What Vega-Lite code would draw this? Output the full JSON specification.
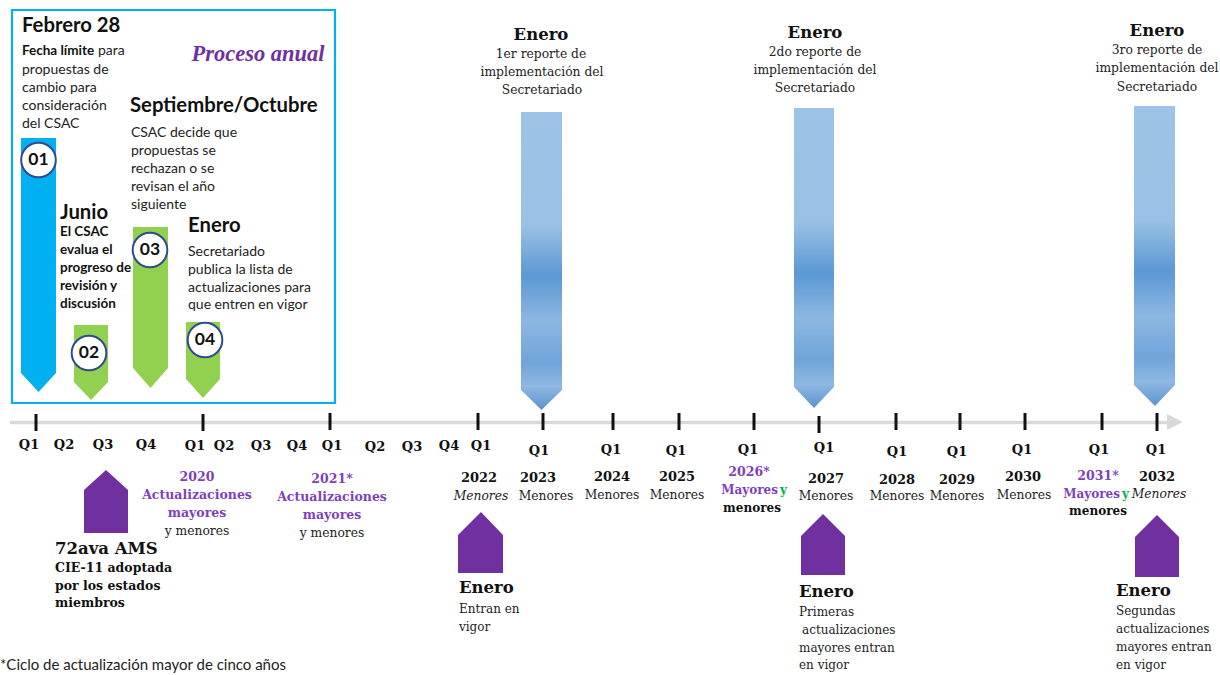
{
  "$schema": "https://vega.github.io/schema/vega-lite/v6.json",
  "autosize": {"type": "fit", "contains": "padding"},
  "width": 1220,
  "height": 675,
  "padding": 0,
  "background": "white",
  "config": {"view": {"stroke": null}},
  "datasets": {
    "box": [{"x": 12, "x2": 335, "y": 10, "y2": 403}],
    "axisline": [{"x": 10, "x2": 1168, "y": 422.5}],
    "shapes": [
      {"id": "a01", "kind": "cyan", "x": 21, "y": 138, "y2": 373},
      {"id": "a01", "kind": "cyan", "x": 38.5, "y": 138, "y2": 392},
      {"id": "a01", "kind": "cyan", "x": 56, "y": 138, "y2": 373},
      {"id": "a02", "kind": "green", "x": 74, "y": 325, "y2": 382},
      {"id": "a02", "kind": "green", "x": 91, "y": 325, "y2": 400},
      {"id": "a02", "kind": "green", "x": 108, "y": 325, "y2": 382},
      {"id": "a03", "kind": "green", "x": 133, "y": 227, "y2": 368},
      {"id": "a03", "kind": "green", "x": 150.5, "y": 227, "y2": 388},
      {"id": "a03", "kind": "green", "x": 168, "y": 227, "y2": 368},
      {"id": "a04", "kind": "green", "x": 186, "y": 322, "y2": 379},
      {"id": "a04", "kind": "green", "x": 203, "y": 322, "y2": 398},
      {"id": "a04", "kind": "green", "x": 220, "y": 322, "y2": 379},
      {"id": "h1", "kind": "purple", "x": 84, "y": 490, "y2": 533},
      {"id": "h1", "kind": "purple", "x": 106, "y": 470, "y2": 533},
      {"id": "h1", "kind": "purple", "x": 128, "y": 490, "y2": 533},
      {"id": "h2", "kind": "purple", "x": 458, "y": 535, "y2": 573},
      {"id": "h2", "kind": "purple", "x": 481, "y": 512, "y2": 573},
      {"id": "h2", "kind": "purple", "x": 503, "y": 535, "y2": 573},
      {"id": "h3", "kind": "purple", "x": 801, "y": 536, "y2": 575},
      {"id": "h3", "kind": "purple", "x": 823, "y": 514, "y2": 575},
      {"id": "h3", "kind": "purple", "x": 845, "y": 536, "y2": 575},
      {"id": "h4", "kind": "purple", "x": 1135, "y": 537, "y2": 577},
      {"id": "h4", "kind": "purple", "x": 1157, "y": 515, "y2": 577},
      {"id": "h4", "kind": "purple", "x": 1179, "y": 537, "y2": 577},
      {"id": "head", "kind": "gray", "x": 1167, "y": 414, "y2": 430},
      {"id": "head", "kind": "gray", "x": 1183, "y": 422, "y2": 422}
    ],
    "report": [
      {"id": "r2023", "x": 521, "y": 112, "y2": 390},
      {"id": "r2023", "x": 541.5, "y": 112, "y2": 410},
      {"id": "r2023", "x": 562, "y": 112, "y2": 390},
      {"id": "r2027", "x": 794, "y": 108, "y2": 387},
      {"id": "r2027", "x": 814, "y": 108, "y2": 408},
      {"id": "r2027", "x": 834, "y": 108, "y2": 387},
      {"id": "r2032", "x": 1134, "y": 106, "y2": 385},
      {"id": "r2032", "x": 1155, "y": 106, "y2": 406},
      {"id": "r2032", "x": 1175, "y": 106, "y2": 385}
    ],
    "ticks": [
      {"x": 36, "y": 414, "y2": 431},
      {"x": 203, "y": 414, "y2": 431},
      {"x": 330, "y": 413, "y2": 430},
      {"x": 478, "y": 413, "y2": 430},
      {"x": 543, "y": 413, "y2": 430},
      {"x": 613, "y": 413, "y2": 430},
      {"x": 679, "y": 413, "y2": 430},
      {"x": 754, "y": 413, "y2": 430},
      {"x": 819, "y": 416, "y2": 433},
      {"x": 896, "y": 413, "y2": 430},
      {"x": 960, "y": 413, "y2": 430},
      {"x": 1025, "y": 413, "y2": 430},
      {"x": 1102, "y": 413, "y2": 430},
      {"x": 1157, "y": 413, "y2": 431}
    ],
    "circles": [
      {"t": "01", "x": 38.5, "y": 160},
      {"t": "02", "x": 89, "y": 353},
      {"t": "03", "x": 150, "y": 250},
      {"t": "04", "x": 205, "y": 340}
    ],
    "texts": [
      {"c": "boxHead", "t": "Febrero 28", "x": 22, "y": 26},
      {"c": "boxHead", "t": "Septiembre/Octubre", "x": 130, "y": 106},
      {"c": "boxHead", "t": "Junio", "x": 60, "y": 213},
      {"c": "boxHead", "t": "Enero", "x": 188, "y": 226},
      {"c": "boxBodyB", "t": "Fecha límite", "x": 22, "y": 51},
      {"c": "boxBodyB", "t": "El CSAC", "x": 60, "y": 232},
      {"c": "boxBodyB", "t": "evalua el", "x": 60, "y": 250},
      {"c": "boxBodyB", "t": "progreso de", "x": 60, "y": 268},
      {"c": "boxBodyB", "t": "revisión y", "x": 60, "y": 286},
      {"c": "boxBodyB", "t": "discusión", "x": 60, "y": 304},
      {"c": "boxBody", "t": "para", "x": 98, "y": 51},
      {"c": "boxBody", "t": "propuestas de", "x": 22, "y": 70},
      {"c": "boxBody", "t": "cambio para", "x": 22, "y": 88},
      {"c": "boxBody", "t": "consideración", "x": 22, "y": 106},
      {"c": "boxBody", "t": "del CSAC", "x": 22, "y": 124},
      {"c": "boxBody", "t": "CSAC decide que", "x": 131, "y": 133},
      {"c": "boxBody", "t": "propuestas se", "x": 131, "y": 151},
      {"c": "boxBody", "t": "rechazan o se", "x": 131, "y": 169},
      {"c": "boxBody", "t": "revisan el año", "x": 131, "y": 187},
      {"c": "boxBody", "t": "siguiente", "x": 131, "y": 205},
      {"c": "boxBody", "t": "Secretariado", "x": 188, "y": 252},
      {"c": "boxBody", "t": "publica la lista de", "x": 188, "y": 270},
      {"c": "boxBody", "t": "actualizaciones para", "x": 188, "y": 288},
      {"c": "boxBody", "t": "que entren en vigor", "x": 188, "y": 305},
      {"c": "proceso", "t": "Proceso anual", "x": 258, "y": 54},
      {"c": "q", "t": "Q1", "x": 29, "y": 445},
      {"c": "q", "t": "Q2", "x": 64, "y": 445},
      {"c": "q", "t": "Q3", "x": 103, "y": 445},
      {"c": "q", "t": "Q4", "x": 146, "y": 445},
      {"c": "q", "t": "Q1", "x": 195, "y": 446},
      {"c": "q", "t": "Q2", "x": 224, "y": 446},
      {"c": "q", "t": "Q3", "x": 261, "y": 446},
      {"c": "q", "t": "Q4", "x": 297, "y": 446},
      {"c": "q", "t": "Q1", "x": 332, "y": 446},
      {"c": "q", "t": "Q2", "x": 375, "y": 447},
      {"c": "q", "t": "Q3", "x": 412, "y": 447},
      {"c": "q", "t": "Q4", "x": 449, "y": 446},
      {"c": "q", "t": "Q1", "x": 481, "y": 446},
      {"c": "q", "t": "Q1", "x": 539, "y": 451},
      {"c": "q", "t": "Q1", "x": 611, "y": 450},
      {"c": "q", "t": "Q1", "x": 676, "y": 451},
      {"c": "q", "t": "Q1", "x": 748, "y": 450},
      {"c": "q", "t": "Q1", "x": 824, "y": 448},
      {"c": "q", "t": "Q1", "x": 897, "y": 452},
      {"c": "q", "t": "Q1", "x": 957, "y": 452},
      {"c": "q", "t": "Q1", "x": 1022, "y": 450},
      {"c": "q", "t": "Q1", "x": 1099, "y": 450},
      {"c": "q", "t": "Q1", "x": 1156, "y": 450},
      {"c": "year", "t": "2022", "x": 479, "y": 478},
      {"c": "year", "t": "2023", "x": 538, "y": 478},
      {"c": "year", "t": "2024", "x": 612, "y": 477},
      {"c": "year", "t": "2025", "x": 677, "y": 477},
      {"c": "year", "t": "2027", "x": 826, "y": 479},
      {"c": "year", "t": "2028", "x": 897, "y": 480},
      {"c": "year", "t": "2029", "x": 957, "y": 480},
      {"c": "year", "t": "2030", "x": 1023, "y": 477},
      {"c": "year", "t": "2032", "x": 1157, "y": 477},
      {"c": "yearP", "t": "2020", "x": 197, "y": 477},
      {"c": "yearP", "t": "2021*", "x": 332, "y": 479},
      {"c": "yearP", "t": "2026*", "x": 749, "y": 472},
      {"c": "yearP", "t": "2031*", "x": 1098, "y": 476},
      {"c": "purpC", "t": "Actualizaciones", "x": 197, "y": 495},
      {"c": "purpC", "t": "mayores", "x": 197, "y": 513},
      {"c": "purpC", "t": "Actualizaciones", "x": 332, "y": 497},
      {"c": "purpC", "t": "mayores", "x": 332, "y": 515},
      {"c": "bodyC", "t": "y menores", "x": 197, "y": 531},
      {"c": "bodyC", "t": "y menores", "x": 332, "y": 533},
      {"c": "purpR", "t": "Mayores", "x": 778, "y": 490},
      {"c": "purpR", "t": "Mayores", "x": 1120, "y": 494},
      {"c": "greenL", "t": "y", "x": 780, "y": 490},
      {"c": "greenL", "t": "y", "x": 1122, "y": 494},
      {"c": "boldC", "t": "menores", "x": 752, "y": 508},
      {"c": "boldC", "t": "menores", "x": 1098, "y": 511},
      {"c": "italC", "t": "Menores", "x": 481, "y": 496},
      {"c": "italC", "t": "Menores", "x": 1159, "y": 494},
      {"c": "bodyC", "t": "Menores", "x": 546, "y": 496},
      {"c": "bodyC", "t": "Menores", "x": 612, "y": 495},
      {"c": "bodyC", "t": "Menores", "x": 677, "y": 495},
      {"c": "bodyC", "t": "Menores", "x": 826, "y": 496},
      {"c": "bodyC", "t": "Menores", "x": 897, "y": 496},
      {"c": "bodyC", "t": "Menores", "x": 957, "y": 496},
      {"c": "bodyC", "t": "Menores", "x": 1024, "y": 495},
      {"c": "headC", "t": "Enero", "x": 541, "y": 35},
      {"c": "bodyC", "t": "1er reporte de", "x": 541, "y": 54},
      {"c": "bodyC", "t": "implementación del", "x": 542, "y": 72},
      {"c": "bodyC", "t": "Secretariado", "x": 542, "y": 90},
      {"c": "headC", "t": "Enero", "x": 815, "y": 33},
      {"c": "bodyC", "t": "2do reporte de", "x": 815, "y": 52},
      {"c": "bodyC", "t": "implementación del", "x": 815, "y": 70},
      {"c": "bodyC", "t": "Secretariado", "x": 815, "y": 88},
      {"c": "headC", "t": "Enero", "x": 1157, "y": 31},
      {"c": "bodyC", "t": "3ro reporte de", "x": 1157, "y": 50},
      {"c": "bodyC", "t": "implementación del", "x": 1157, "y": 68},
      {"c": "bodyC", "t": "Secretariado", "x": 1157, "y": 87},
      {"c": "headL", "t": "72ava AMS", "x": 55, "y": 549},
      {"c": "boldL", "t": "CIE-11 adoptada", "x": 55, "y": 568},
      {"c": "boldL", "t": "por los estados", "x": 55, "y": 586},
      {"c": "boldL", "t": "miembros", "x": 55, "y": 603},
      {"c": "headL", "t": "Enero", "x": 459, "y": 588},
      {"c": "bodyL", "t": "Entran en", "x": 459, "y": 609},
      {"c": "bodyL", "t": "vigor", "x": 459, "y": 627},
      {"c": "headL", "t": "Enero", "x": 799, "y": 592},
      {"c": "bodyL", "t": "Primeras", "x": 799, "y": 612},
      {"c": "bodyL", "t": "actualizaciones", "x": 802, "y": 630},
      {"c": "bodyL", "t": "mayores entran", "x": 799, "y": 648},
      {"c": "bodyL", "t": "en vigor", "x": 799, "y": 665},
      {"c": "headL", "t": "Enero", "x": 1116, "y": 591},
      {"c": "bodyL", "t": "Segundas", "x": 1116, "y": 611},
      {"c": "bodyL", "t": "actualizaciones", "x": 1116, "y": 629},
      {"c": "bodyL", "t": "mayores entran", "x": 1116, "y": 647},
      {"c": "bodyL", "t": "en vigor", "x": 1116, "y": 665},
      {"c": "foot", "t": "*Ciclo de actualización mayor de cinco años", "x": 0, "y": 665}
    ]
  },
  "data": {"name": "texts"},
  "encoding": {
    "x": {"field": "x", "type": "quantitative", "scale": {"domain": [0, 1220], "nice": false, "zero": false}, "axis": null},
    "y": {"field": "y", "type": "quantitative", "scale": {"domain": [0, 675], "reverse": true, "nice": false, "zero": false}, "axis": null}
  },
  "layer": [
    {
      "data": {"name": "box"},
      "mark": {"type": "rect", "fill": null, "fillOpacity": 0, "stroke": "#00B0F0", "strokeWidth": 2.2},
      "encoding": {"x2": {"field": "x2"}, "y2": {"field": "y2"}}
    },
    {
      "data": {"name": "axisline"},
      "mark": {"type": "rule", "color": "#D9D9D9", "strokeWidth": 3.5},
      "encoding": {"x2": {"field": "x2"}}
    },
    {
      "data": {"name": "shapes"},
      "mark": {"type": "area", "orient": "vertical", "interpolate": "linear", "opacity": 1},
      "encoding": {
        "y2": {"field": "y2"},
        "detail": {"field": "id"},
        "color": {"field": "kind", "type": "nominal", "legend": null,
          "scale": {"domain": ["cyan", "green", "purple", "gray"], "range": ["#00B0F0", "#92D050", "#7030A0", "#D9D9D9"]}}
      }
    },
    {
      "data": {"name": "report"},
      "mark": {"type": "area", "orient": "vertical", "interpolate": "linear",
        "fill": {"gradient": "linear", "x1": 0, "y1": 0, "x2": 0, "y2": 1,
          "stops": [
            {"offset": 0, "color": "#9DC3E6"},
            {"offset": 0.38, "color": "#9AC1E5"},
            {"offset": 0.55, "color": "#5B98D4"},
            {"offset": 0.7, "color": "#8DB7E2"},
            {"offset": 0.84, "color": "#6FA4DA"},
            {"offset": 0.92, "color": "#8FB8E2"},
            {"offset": 1, "color": "#5B93CF"}
          ]}},
      "encoding": {"y2": {"field": "y2"}, "detail": {"field": "id"}}
    },
    {
      "data": {"name": "ticks"},
      "mark": {"type": "rule", "color": "#111111", "strokeWidth": 3},
      "encoding": {"y2": {"field": "y2"}}
    },
    {
      "data": {"name": "circles"},
      "mark": {"type": "point", "shape": "circle", "filled": true, "fill": "white", "stroke": "#2F4B8F", "strokeWidth": 2, "size": 1200, "opacity": 1},
      "encoding": {}
    },
    {
      "data": {"name": "circles"},
      "mark": {"type": "text", "font": "Lato", "fontWeight": "bold", "fontSize": 17.5, "align": "center", "baseline": "middle", "color": "#111111"},
      "encoding": {"text": {"field": "t"}}
    },
    {
      "transform": [{"filter": "datum.c === 'boxHead'"}],
      "mark": {"type": "text", "font": "Lato", "fontWeight": "bold", "fontSize": 20.3, "align": "left", "baseline": "middle", "color": "#111111"},
      "encoding": {"text": {"field": "t"}}
    },
    {
      "transform": [{"filter": "datum.c === 'boxBodyB'"}],
      "mark": {"type": "text", "font": "Lato", "fontWeight": "bold", "fontSize": 13.5, "align": "left", "baseline": "middle", "color": "#111111"},
      "encoding": {"text": {"field": "t"}}
    },
    {
      "transform": [{"filter": "datum.c === 'boxBody'"}],
      "mark": {"type": "text", "font": "Lato", "fontSize": 14, "align": "left", "baseline": "middle", "color": "#222222"},
      "encoding": {"text": {"field": "t"}}
    },
    {
      "transform": [{"filter": "datum.c === 'proceso'"}],
      "mark": {"type": "text", "font": "Liberation Serif", "fontWeight": "bold", "fontStyle": "italic", "fontSize": 22.5, "align": "center", "baseline": "middle", "color": "#7030A0"},
      "encoding": {"text": {"field": "t"}}
    },
    {
      "transform": [{"filter": "datum.c === 'q' || datum.c === 'year'"}],
      "mark": {"type": "text", "font": "DejaVu Serif", "fontWeight": "bold", "fontSize": 13, "align": "center", "baseline": "middle", "color": "#111111"},
      "encoding": {"text": {"field": "t"}}
    },
    {
      "transform": [{"filter": "datum.c === 'yearP' || datum.c === 'purpC'"}],
      "mark": {"type": "text", "font": "DejaVu Serif", "fontWeight": "bold", "fontSize": 12.5, "align": "center", "baseline": "middle", "color": "#7F3FBF"},
      "encoding": {"text": {"field": "t"}}
    },
    {
      "transform": [{"filter": "datum.c === 'purpR'"}],
      "mark": {"type": "text", "font": "DejaVu Serif", "fontWeight": "bold", "fontSize": 12, "align": "right", "baseline": "middle", "color": "#7F3FBF"},
      "encoding": {"text": {"field": "t"}}
    },
    {
      "transform": [{"filter": "datum.c === 'greenL'"}],
      "mark": {"type": "text", "font": "DejaVu Serif", "fontWeight": "bold", "fontSize": 12, "align": "left", "baseline": "middle", "color": "#00B050"},
      "encoding": {"text": {"field": "t"}}
    },
    {
      "transform": [{"filter": "datum.c === 'boldC'"}],
      "mark": {"type": "text", "font": "DejaVu Serif", "fontWeight": "bold", "fontSize": 12, "align": "center", "baseline": "middle", "color": "#111111"},
      "encoding": {"text": {"field": "t"}}
    },
    {
      "transform": [{"filter": "datum.c === 'bodyC'"}],
      "mark": {"type": "text", "font": "DejaVu Serif", "fontSize": 12.3, "align": "center", "baseline": "middle", "color": "#222222"},
      "encoding": {"text": {"field": "t"}}
    },
    {
      "transform": [{"filter": "datum.c === 'italC'"}],
      "mark": {"type": "text", "font": "DejaVu Serif", "fontStyle": "italic", "fontSize": 12.3, "align": "center", "baseline": "middle", "color": "#222222"},
      "encoding": {"text": {"field": "t"}}
    },
    {
      "transform": [{"filter": "datum.c === 'headC'"}],
      "mark": {"type": "text", "font": "DejaVu Serif", "fontWeight": "bold", "fontSize": 16.5, "align": "center", "baseline": "middle", "color": "#111111"},
      "encoding": {"text": {"field": "t"}}
    },
    {
      "transform": [{"filter": "datum.c === 'headL'"}],
      "mark": {"type": "text", "font": "DejaVu Serif", "fontWeight": "bold", "fontSize": 16.5, "align": "left", "baseline": "middle", "color": "#111111"},
      "encoding": {"text": {"field": "t"}}
    },
    {
      "transform": [{"filter": "datum.c === 'boldL'"}],
      "mark": {"type": "text", "font": "DejaVu Serif", "fontWeight": "bold", "fontSize": 12.5, "align": "left", "baseline": "middle", "color": "#111111"},
      "encoding": {"text": {"field": "t"}}
    },
    {
      "transform": [{"filter": "datum.c === 'bodyL'"}],
      "mark": {"type": "text", "font": "DejaVu Serif", "fontSize": 12, "align": "left", "baseline": "middle", "color": "#222222"},
      "encoding": {"text": {"field": "t"}}
    },
    {
      "transform": [{"filter": "datum.c === 'foot'"}],
      "mark": {"type": "text", "font": "Lato", "fontSize": 15, "align": "left", "baseline": "middle", "color": "#222222"},
      "encoding": {"text": {"field": "t"}}
    }
  ]
}
